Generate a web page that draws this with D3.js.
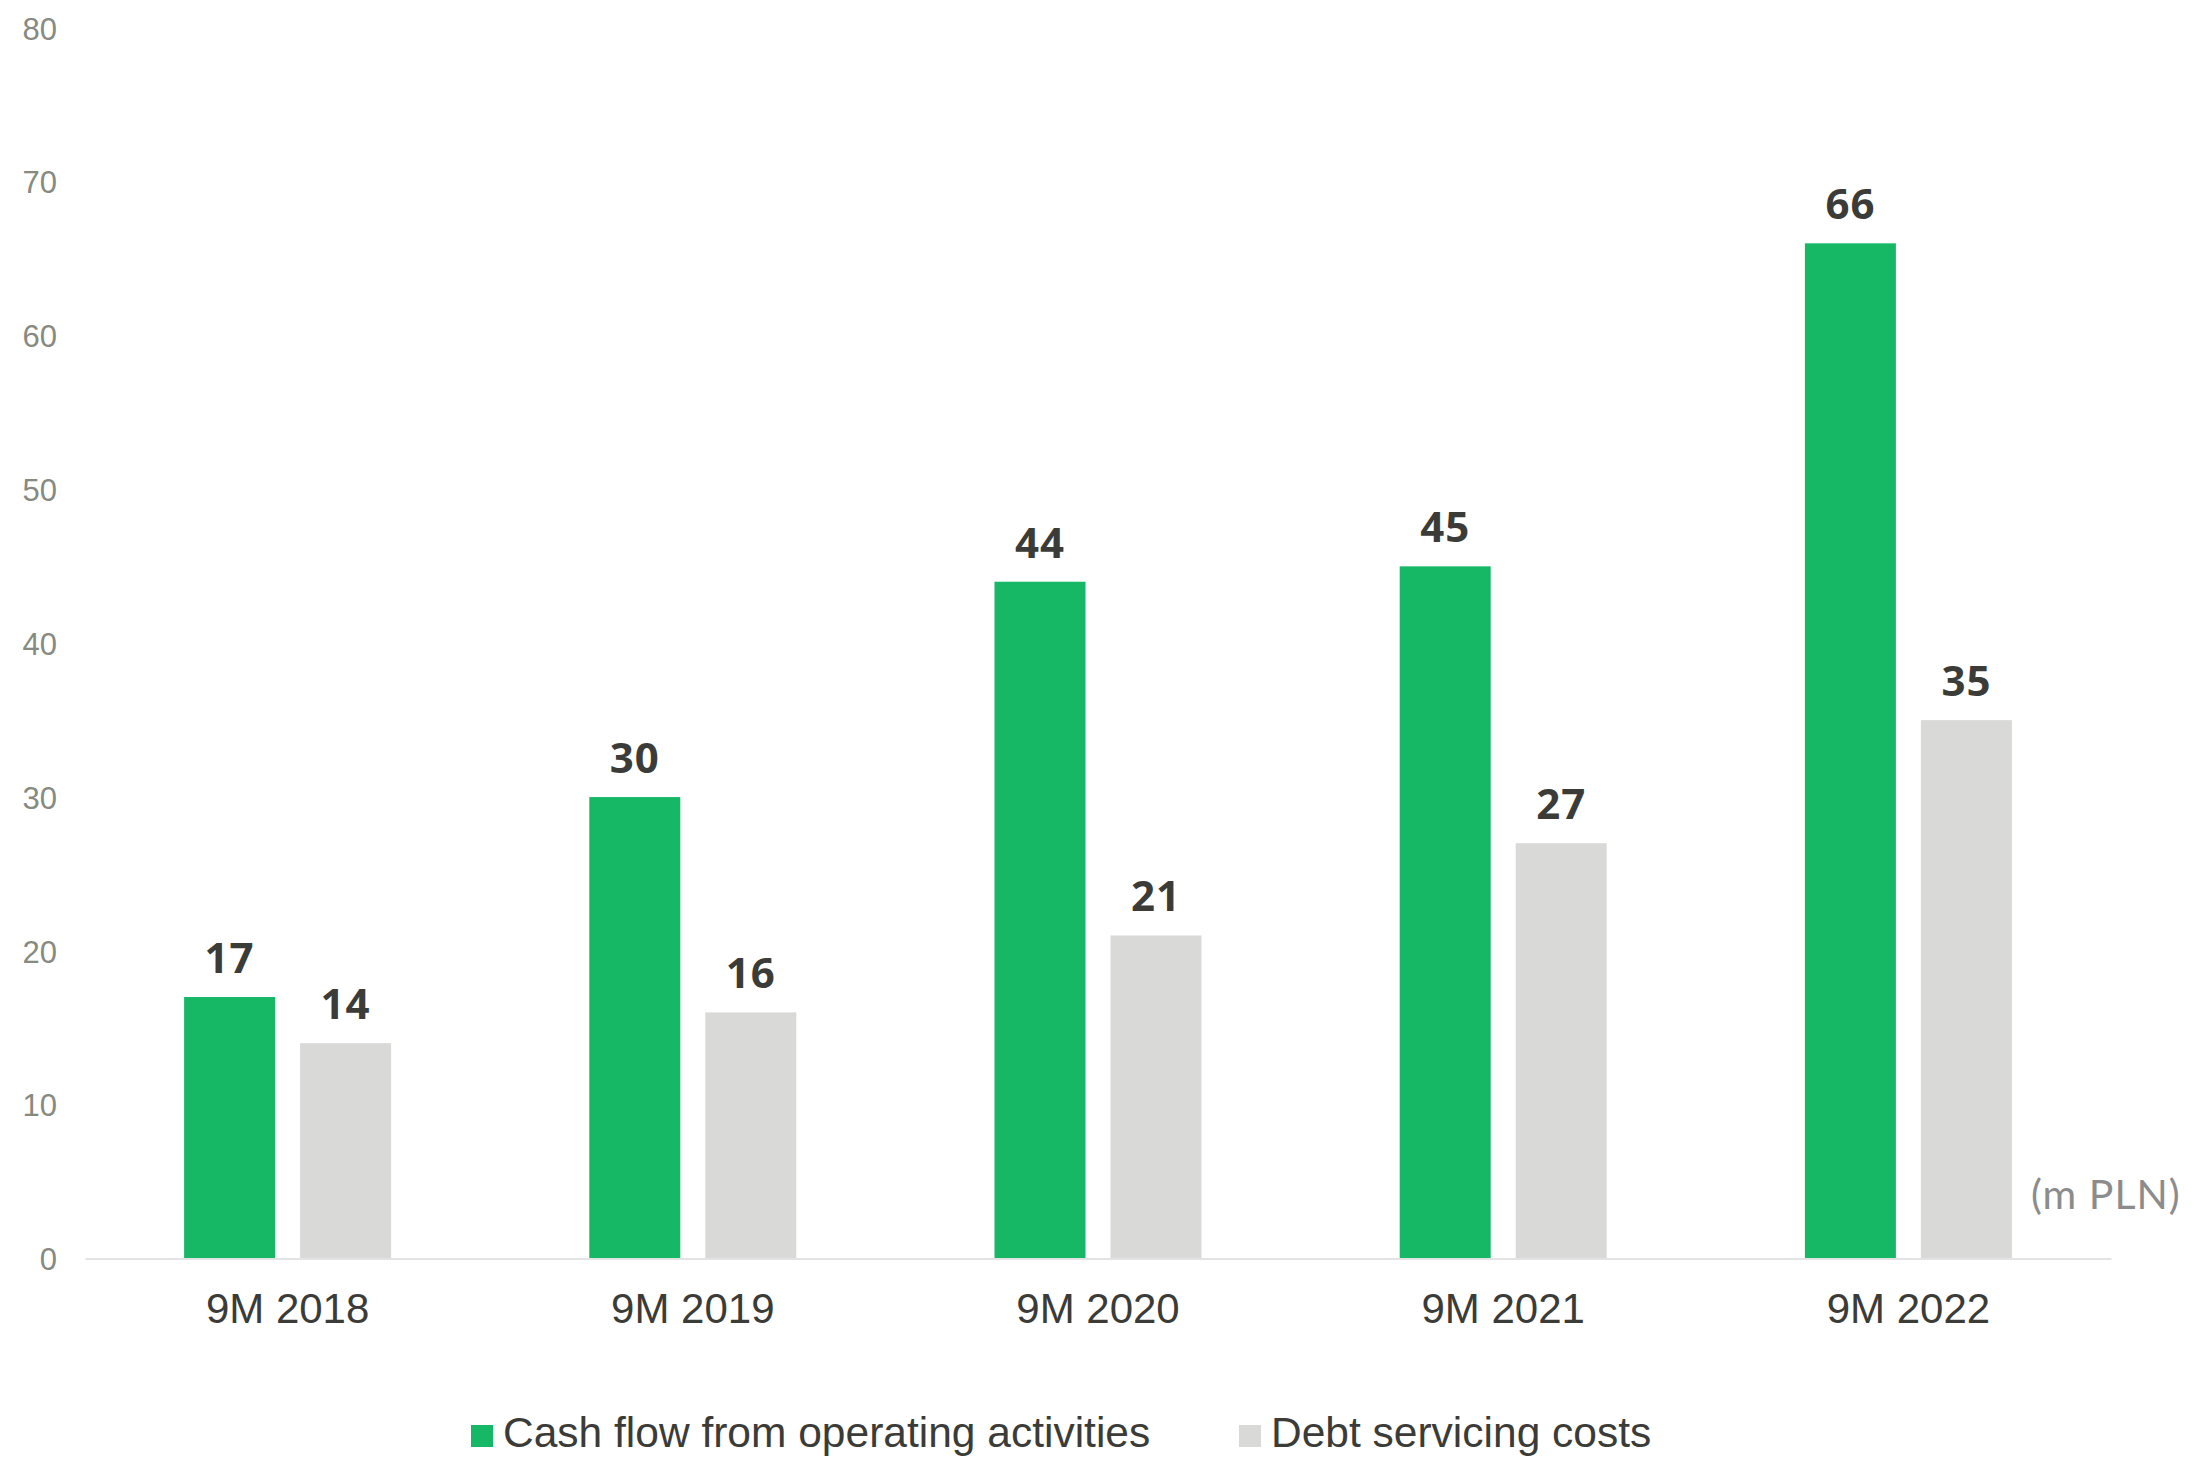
<!DOCTYPE html>
<html>
<head>
<meta charset="utf-8">
<script src="https://cdn.jsdelivr.net/npm/d3@7"></script>
<style>
  html, body { margin: 0; padding: 0; background: #ffffff; }
  svg { display: block; }
</style>
</head>
<body>
<svg id="chart" width="2194" height="1457"></svg>
<script>
// Periods on the x axis
const categories = ["9M 2018", "9M 2019", "9M 2020", "9M 2021", "9M 2022"];
// Series values (m PLN)
const cashFlow = [17, 30, 44, 45, 66];
const debtCosts = [14, 16, 21, 27, 35];
const seriesNames = ["Cash flow from operating activities", "Debt servicing costs"];
const yTicks = [0, 10, 20, 30, 40, 50, 60, 70, 80];
const unitLabel = "(m PLN)";

const colors = ["#16b866", "#d9d9d7"];
const series = [cashFlow, debtCosts];

const svg = d3.select("#chart");

const x = d3.scaleBand()
  .domain(categories)
  .range([85, 2111]);

// two bars per period, 91px wide with a 25px gap between them
const barW = 91, barGap = 25;
const pairW = barW * 2 + barGap;
const innerX = d3.scaleBand()
  .domain([0, 1])
  .range([0, pairW])
  .paddingInner(barGap / (barW + barGap))
  .paddingOuter(0);

const y = d3.scaleLinear()
  .domain([0, 80])
  .range([1258.5, 28]);

// y axis tick labels (no line, no ticks)
const yAxis = d3.axisLeft(y).tickValues(yTicks).tickSize(0).tickPadding(0);
const yg = svg.append("g").attr("transform", "translate(57,0)").call(yAxis);
yg.select(".domain").remove();
yg.selectAll("text")
  .attr("fill", "#878a7f")
  .attr("font-family", "'Liberation Sans', Arial, sans-serif")
  .attr("font-size", 31)
  .attr("dy", "0.36em");

// bars with value labels
const groups = svg.append("g").selectAll("g")
  .data(categories)
  .join("g")
  .attr("transform", d => `translate(${x(d) + (x.bandwidth() - pairW) / 2},0)`);

groups.each(function(cat, ci) {
  const g = d3.select(this);
  series.forEach((vals, si) => {
    const v = vals[ci];
    g.append("rect")
      .attr("x", innerX(si))
      .attr("width", innerX.bandwidth())
      .attr("y", y(v))
      .attr("height", y(0) - y(v))
      .attr("fill", colors[si]);
    g.append("text")
      .attr("x", innerX(si) + innerX.bandwidth() / 2)
      .attr("y", y(v) - 24)
      .attr("text-anchor", "middle")
      .attr("font-family", "'Open Sans', sans-serif")
      .attr("font-weight", 700)
      .attr("font-size", 42)
      .attr("letter-spacing", 1)
      .attr("fill", "#3b3b38")
      .text(v);
  });
});

// x axis baseline and category labels
const xAxis = d3.axisBottom(x).tickSize(0).tickPadding(0);
const xg = svg.append("g").attr("transform", `translate(0,${y(0)})`).call(xAxis);
xg.select(".domain")
  .attr("stroke", "#e3e3e3")
  .attr("stroke-width", 2);
xg.selectAll("text")
  .attr("fill", "#3b3b38")
  .attr("font-family", "'Liberation Sans', Arial, sans-serif")
  .attr("font-size", 42)
  .attr("dy", null)
  .attr("y", 1322.7 - y(0));

// unit label
svg.append("text")
  .attr("x", 2031)
  .attr("y", 1209)
  .attr("font-family", "Lato, sans-serif")
  .attr("font-size", 41)
  .attr("letter-spacing", 1)
  .attr("fill", "#8c8c8c")
  .text(unitLabel);

// legend
const legendX = [471, 1239];
const legend = svg.append("g").selectAll("g")
  .data(seriesNames)
  .join("g")
  .attr("transform", (d, i) => `translate(${legendX[i]},0)`);
legend.append("rect")
  .attr("x", 0)
  .attr("y", 1425)
  .attr("width", 22)
  .attr("height", 22)
  .attr("fill", (d, i) => colors[i]);
legend.append("text")
  .attr("x", 32)
  .attr("y", 1447)
  .attr("font-family", "'Liberation Sans', Arial, sans-serif")
  .attr("font-size", 42.5)
  .attr("fill", "#3b3b38")
  .text(d => d);
</script>
</body>
</html>
